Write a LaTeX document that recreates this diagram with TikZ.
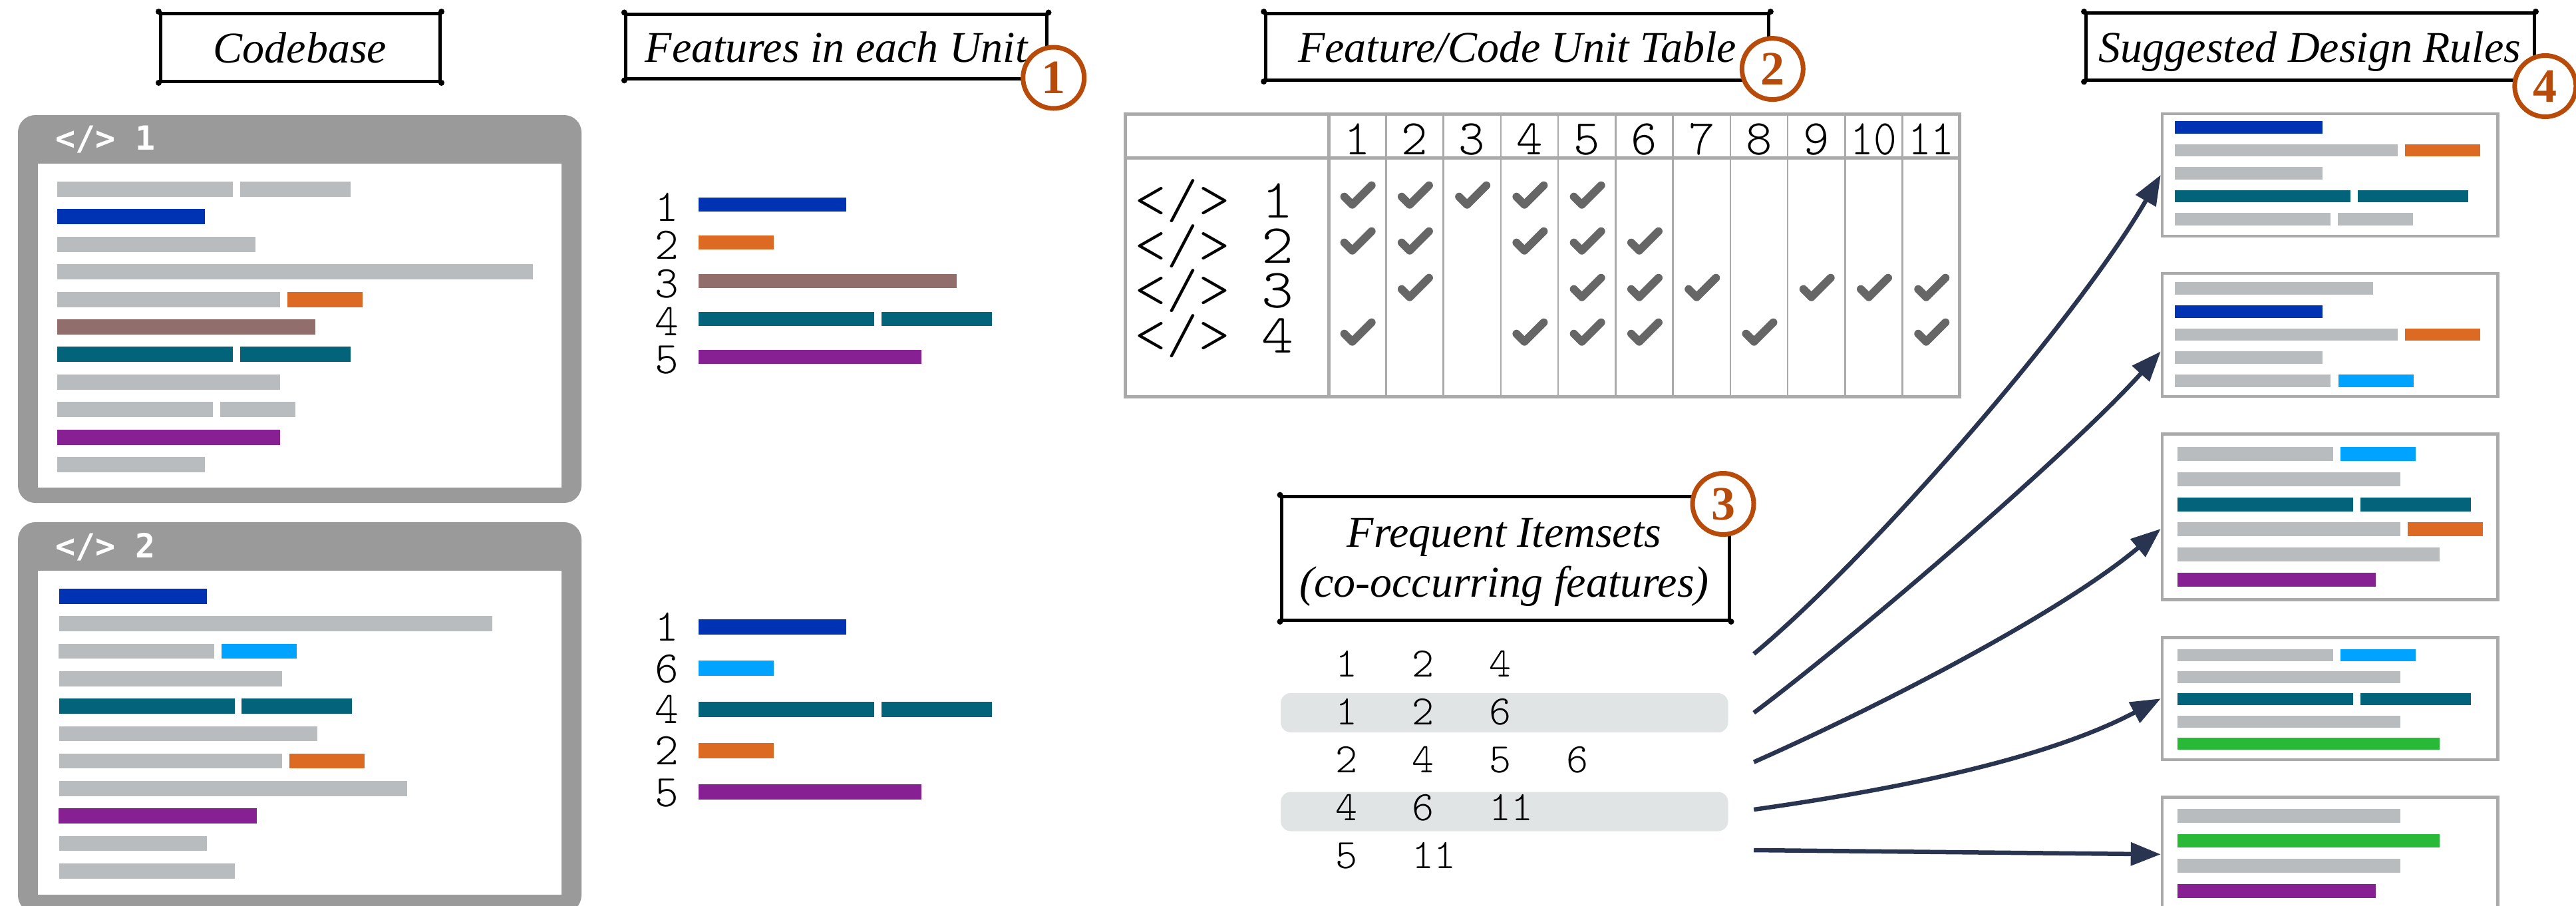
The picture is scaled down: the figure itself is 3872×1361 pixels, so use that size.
\documentclass[tikz,border=0pt]{standalone}
\usepackage{fontspec}
\setmainfont{Liberation Serif}
\newfontfamily\thinmono{lmmonolt10-regular.otf}
\newfontfamily\winfont{DejaVu Sans Mono}
\usetikzlibrary{arrows.meta,calc}

\definecolor{cbBlue}{HTML}{0033B3}
\definecolor{cbOrange}{HTML}{DC6A22}
\definecolor{cbBrown}{HTML}{916D6C}
\definecolor{cbTeal}{HTML}{02637A}
\definecolor{cbPurple}{HTML}{862093}
\definecolor{cbGray}{HTML}{B8BCBF}
\definecolor{cbSky}{HTML}{00A3FF}
\definecolor{cbGreen}{HTML}{28BA36}
\definecolor{winGray}{HTML}{9A9A9A}
\definecolor{frameGray}{HTML}{AAAAAA}
\definecolor{tickGray}{HTML}{666666}
\definecolor{arrowNavy}{HTML}{283450}
\definecolor{badgeOrange}{HTML}{B84A0A}
\definecolor{hlGray}{HTML}{E1E4E5}

% a coloured code line: colour, x from, x to, top, height
\newcommand\codebar[5]{\fill[#1] (#2,#4) rectangle (#3,{#4+#5});}
% small ink blobs at the corners of a hand-drawn title frame
\newcommand\inkcorners[1]{\foreach \c in {north west,north east,south west,south east}{\fill (#1.\c) circle (4.5pt);}}
% a rounded check mark centred at (x,y)
\newcommand\tickat[2]{\draw[tickline] ({#1-20.5},{#2+2.7}) -- ++(12,12) -- ++(29,-29);}
% one fixed-width column of an itemset row
\newcommand\isetcell[1]{\makebox[115.7pt][l]{#1}}

\begin{document}
\begin{tikzpicture}[x=1pt,y=-1pt,
  titlebox/.style={draw=black, line width=5pt, inner sep=0pt,
    font=\fontsize{66}{75}\selectfont\itshape, text height=50pt, text depth=3pt},
  titletext/.style={inner sep=0pt, anchor=base, font=\fontsize{66}{75}\selectfont\itshape},
  badge/.style={circle, draw=badgeOrange, fill=white, line width=7pt, minimum size=92pt,
    inner sep=0pt, text=badgeOrange, font=\bfseries\fontsize{72}{72}\selectfont},
  winlabel/.style={anchor=base west, inner sep=0pt, text=white, font=\winfont\bfseries\fontsize{50}{50}\selectfont},
  featnum/.style={anchor=base west, inner sep=0pt, font=\thinmono\fontsize{68}{68}\selectfont},
  hdrnum/.style={anchor=base, inner sep=0pt, font=\thinmono\fontsize{75}{75}\selectfont},
  unitlabel/.style={anchor=base west, inner sep=0pt, font=\thinmono\fontsize{83}{83}\selectfont},
  tickline/.style={draw=tickGray, line width=12pt, line cap=round, line join=round},
  itemrow/.style={minimum width=672.5pt, minimum height=59pt, inner sep=0pt, rounded corners=15pt},
  itemtext/.style={anchor=base west, inner sep=0pt, font=\thinmono\fontsize{63}{63}\selectfont},
  rulebox/.style={draw=frameGray, line width=4.5pt, minimum width=504.6pt, inner sep=0pt},
  flow/.style={draw=arrowNavy, line width=6.5pt, -{Triangle[length=45pt,width=34pt]}}
]
\useasboundingbox (0,0) rectangle (3872,1361);

% ---------------- Codebase ----------------
\node[titlebox, minimum width=420pt, minimum height=102pt] (tCode) at (451,71) {Codebase};
\inkcorners{tCode}

% code unit 1
\fill[winGray, rounded corners=26pt] (27,173) rectangle (874,756);
\fill[white] (56.8,246) rectangle (843.8,732.7);
\node[winlabel] (w1) at (83,225) {</> 1};
\codebar{cbGray}{86}{350}{273}{23}\codebar{cbGray}{361}{527}{273}{23}
\codebar{cbBlue}{86}{308}{314.4}{23}
\codebar{cbGray}{86}{384}{355.8}{23}
\codebar{cbGray}{86}{801}{397.2}{23}
\codebar{cbGray}{86}{421}{438.6}{23}\codebar{cbOrange}{432}{545}{438.6}{23}
\codebar{cbBrown}{86}{474}{480}{23}
\codebar{cbTeal}{86}{350}{521.4}{23}\codebar{cbTeal}{361}{527}{521.4}{23}
\codebar{cbGray}{86}{421}{562.8}{23}
\codebar{cbGray}{86}{320}{604.2}{23}\codebar{cbGray}{331}{444}{604.2}{23}
\codebar{cbPurple}{86}{421}{645.6}{23}
\codebar{cbGray}{86}{308}{687}{23}

% code unit 2
\fill[winGray, rounded corners=26pt] (27,785) rectangle (874,1372);
\fill[white] (56.8,858.1) rectangle (843.8,1344.5);
\node[winlabel] (w2) at (83,838.6) {</> 2};
\codebar{cbBlue}{89}{311}{885}{22.6}
\codebar{cbGray}{89}{740}{926.3}{22.6}
\codebar{cbGray}{88}{322}{967.6}{22.6}\codebar{cbSky}{333}{446}{967.6}{22.6}
\codebar{cbGray}{89}{424}{1008.9}{22.6}
\codebar{cbTeal}{89}{353}{1050.2}{22.6}\codebar{cbTeal}{363}{529}{1050.2}{22.6}
\codebar{cbGray}{89}{477}{1091.5}{22.6}
\codebar{cbGray}{89}{424}{1132.8}{22.6}\codebar{cbOrange}{435}{548}{1132.8}{22.6}
\codebar{cbGray}{89}{612}{1174.1}{22.6}
\codebar{cbPurple}{88}{386}{1215.4}{22.6}
\codebar{cbGray}{89}{311}{1256.7}{22.6}
\codebar{cbGray}{89}{353}{1298}{22.6}

% ---------------- Features in each unit ----------------
\node[titlebox, minimum width=632.7pt, minimum height=97pt] (tFeat) at (1257.2,69.9) {Features in each Unit};
\inkcorners{tFeat}

\node[featnum] (fa1) at (984,332.6) {1};
\node[featnum] (fa2) at (984,389.9) {2};
\node[featnum] (fa3) at (984,447.2) {3};
\node[featnum] (fa4) at (984,504.5) {4};
\node[featnum] (fa5) at (984,561.8) {5};
\codebar{cbBlue}{1050}{1272}{297}{21}
\codebar{cbOrange}{1050}{1163}{354}{21}
\codebar{cbBrown}{1050}{1438}{412}{21}
\codebar{cbTeal}{1050}{1314}{469}{21}\codebar{cbTeal}{1325}{1491}{469}{21}
\codebar{cbPurple}{1050}{1385}{526}{21}

\node[featnum] (fb1) at (984,963.8) {1};
\node[featnum] (fb2) at (984,1026.3) {6};
\node[featnum] (fb3) at (984,1087.5) {4};
\node[featnum] (fb4) at (984,1149.7) {2};
\node[featnum] (fb5) at (984,1212) {5};
\codebar{cbBlue}{1050}{1272}{931}{22.7}
\codebar{cbSky}{1050}{1163}{992.8}{22.7}
\codebar{cbTeal}{1050}{1314}{1054.9}{22.7}\codebar{cbTeal}{1325}{1491}{1054.9}{22.7}
\codebar{cbOrange}{1050}{1163}{1117}{22.7}
\codebar{cbPurple}{1050}{1385}{1179}{22.7}

% ---------------- Feature / code unit table ----------------
\node[titlebox, minimum width=756.7pt, minimum height=100pt] (tTable) at (2280.5,70) {Feature/Code Unit Table};
\inkcorners{tTable}

\node[draw=frameGray, line width=5pt, minimum width=1254.5pt, minimum height=425.7pt, inner sep=0pt]
  (fctable) at (2318.55,384.05) {};
\draw[frameGray, line width=5pt] (fctable.west |- 0,237.5) -- (fctable.east |- 0,237.5);
\draw[frameGray, line width=5pt] (1997,0 |- fctable.north) -- (1997,0 |- fctable.south);
\foreach \i in {1,...,10}{
  \draw[frameGray, line width=2.5pt] ({1997+\i*86.26},0 |- fctable.north) -- ({1997+\i*86.26},0 |- fctable.south);
}
\foreach \i in {1,...,9}{
  \node[hdrnum] (hd\i) at ({1997+(\i-0.5)*86.26},232) {\i};
}
\node[hdrnum] (hd10) at ({1997+9.5*86.26},232) {\scalebox{0.88}[1]{10}};
\node[hdrnum] (hd11) at ({1997+10.5*86.26},232) {\scalebox{0.88}[1]{11}};

\node[unitlabel] (u1) at (1705,327) {\scalebox{1.1}[1]{</> 1}};
\node[unitlabel] (u2) at (1705,395) {\scalebox{1.1}[1]{</> 2}};
\node[unitlabel] (u3) at (1705,462) {\scalebox{1.1}[1]{</> 3}};
\node[unitlabel] (u4) at (1705,530) {\scalebox{1.1}[1]{</> 4}};

\foreach \y/\cols in {293/{1,2,3,4,5}, 362/{1,2,4,5,6}, 432/{2,5,6,7,9,10,11}, 499/{1,4,5,6,8,11}}{
  \foreach \c in \cols{
    \tickat{1997+(\c-0.5)*86.26+1}{\y}
  }
}

% ---------------- Frequent itemsets ----------------
\node[draw=black, line width=5pt, minimum width=673pt, minimum height=185.4pt, inner sep=0pt] (tItems) at (2263,839.3) {};
\inkcorners{tItems}
\node[titletext] (tItemsA) at (2261,822) {Frequent Itemsets};
\node[titletext] (tItemsB) at (2261,897) {(co-occurring features)};

\node[itemrow] (item1) at (2261.25,998) {};
\node[itemrow, fill=hlGray] (item2) at (2261.25,1071.5) {};
\node[itemrow] (item3) at (2261.25,1142) {};
\node[itemrow, fill=hlGray] (item4) at (2261.25,1220) {};
\node[itemrow] (item5) at (2261.25,1286) {};
\node[itemtext] (it1) at (2007,1017) {\isetcell{1}\isetcell{2}4};
\node[itemtext] (it2) at (2007,1089) {\isetcell{1}\isetcell{2}6};
\node[itemtext] (it3) at (2007,1161) {\isetcell{2}\isetcell{4}\isetcell{5}6};
\node[itemtext] (it4) at (2007,1233) {\isetcell{4}\isetcell{6}11};
\node[itemtext] (it5) at (2007,1305) {\isetcell{5}11};

% ---------------- Suggested design rules ----------------
\node[titlebox, minimum width=674pt, minimum height=100.5pt] (tRules) at (3472,70.2) {Suggested Design Rules};
\inkcorners{tRules}

\node[rulebox, minimum height=184pt] (rule1) at (3502.3,263) {};
\codebar{cbBlue}{3269}{3491}{182}{18.75}
\codebar{cbGray}{3269}{3604}{216.5}{18.75}\codebar{cbOrange}{3615}{3728}{216.5}{18.75}
\codebar{cbGray}{3269}{3491}{251}{18.75}
\codebar{cbTeal}{3269}{3533}{285.5}{18.75}\codebar{cbTeal}{3544}{3710}{285.5}{18.75}
\codebar{cbGray}{3269}{3503}{320}{18.75}\codebar{cbGray}{3514}{3627}{320}{18.75}

\node[rulebox, minimum height=185.3pt] (rule2) at (3502.3,503.4) {};
\codebar{cbGray}{3269}{3567}{424}{18.75}
\codebar{cbBlue}{3269}{3491}{458.75}{18.75}
\codebar{cbGray}{3269}{3604}{493.5}{18.75}\codebar{cbOrange}{3615}{3728}{493.5}{18.75}
\codebar{cbGray}{3269}{3491}{528.25}{18.75}
\codebar{cbGray}{3269}{3503}{563}{18.75}\codebar{cbSky}{3515}{3628}{563}{18.75}

\node[rulebox, minimum height=249.3pt] (rule3) at (3502.3,777) {};
\codebar{cbGray}{3273}{3507}{672.2}{20.9}\codebar{cbSky}{3518}{3631}{672.2}{20.9}
\codebar{cbGray}{3273}{3608}{709.9}{20.9}
\codebar{cbTeal}{3273}{3537}{747.6}{20.9}\codebar{cbTeal}{3548}{3714}{747.6}{20.9}
\codebar{cbGray}{3273}{3608}{785.3}{20.9}\codebar{cbOrange}{3619}{3732}{785.3}{20.9}
\codebar{cbGray}{3273}{3667}{823}{20.9}
\codebar{cbPurple}{3273}{3571}{860.7}{20.9}

\node[rulebox, minimum height=183.7pt] (rule4) at (3502.3,1050.2) {};
\codebar{cbGray}{3273}{3507}{976}{18}\codebar{cbSky}{3518}{3631}{976}{18}
\codebar{cbGray}{3273}{3608}{1009.2}{18}
\codebar{cbTeal}{3273}{3537}{1042.4}{18}\codebar{cbTeal}{3548}{3714}{1042.4}{18}
\codebar{cbGray}{3273}{3608}{1075.6}{18}
\codebar{cbGreen}{3273}{3667}{1108.8}{18}

\node[rulebox, minimum height=171.4pt] (rule5) at (3502.3,1284.3) {};
\codebar{cbGray}{3273}{3608}{1215.8}{20.9}
\codebar{cbGreen}{3273}{3667}{1253.5}{20.9}
\codebar{cbGray}{3273}{3608}{1291.2}{20.9}
\codebar{cbPurple}{3273}{3571}{1328.9}{20.9}

% ---------------- itemsets feed the rules ----------------
\coordinate (s1) at ([xshift=38.5pt,yshift=15pt]item1.east);
\coordinate (s2) at ([xshift=38.5pt]item2.east);
\coordinate (s3) at ([xshift=38.5pt,yshift=-3.6pt]item3.east);
\coordinate (s4) at ([xshift=38.5pt,yshift=3pt]item4.east);
\coordinate (s5) at ([xshift=38.5pt,yshift=8pt]item5.east);
\coordinate (e2) at ([yshift=-25pt]rule2.west);
\coordinate (e3) at ([yshift=-18pt]rule3.west);
\draw[flow] (s1) .. controls ($(s1)+(180,-150)$) and ($(rule1.west)+(-125,216)$) .. (rule1.west);
\draw[flow] (s2) .. controls ($(s2)+(160,-120)$) and ($(e2)+(-134,149)$) .. (e2);
\draw[flow] (s3) .. controls ($(s3)+(183,-81)$) and ($(e3)+(-153,128.6)$) .. (e3);
\draw[flow] (s4) .. controls ($(s4)+(198,-28)$) and ($(rule4.west)+(-177,94)$) .. (rule4.west);
\draw[flow] (s5) -- (rule5.west);

% ---------------- step badges ----------------
\node[badge] (b1) at (1583.7,117) {1};
\node[badge] (b2) at (2664.3,103.6) {2};
\node[badge] (b3) at (2590,757.5) {3};
\node[badge] (b4) at (3825.8,129.5) {4};
\end{tikzpicture}
\end{document}
